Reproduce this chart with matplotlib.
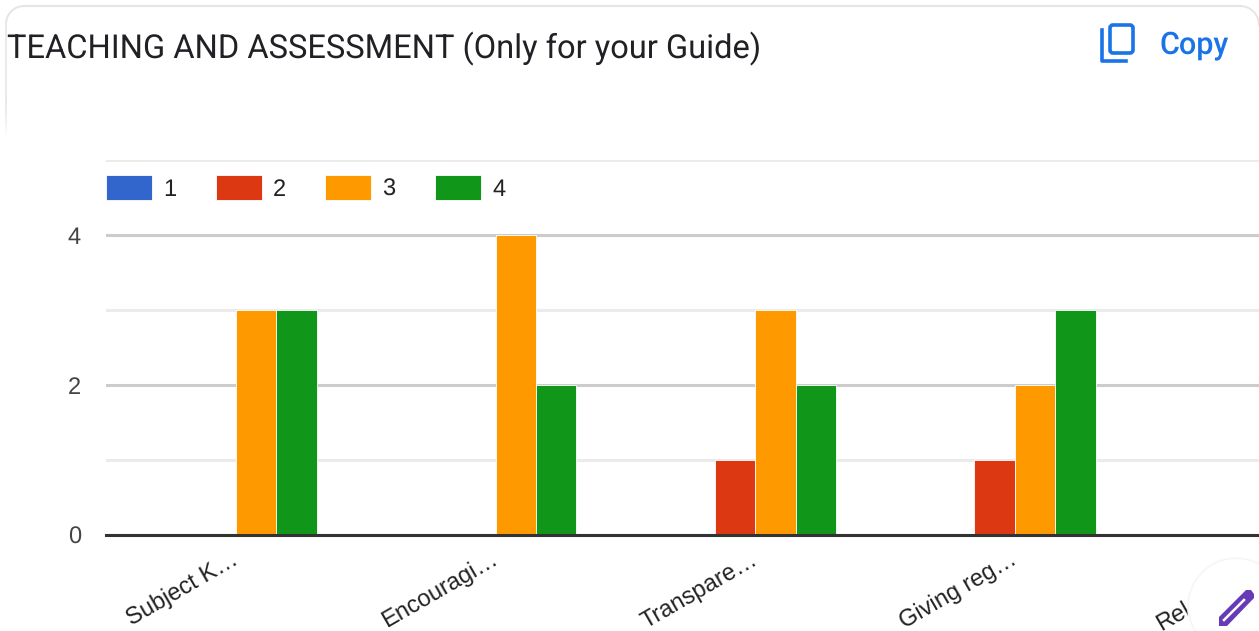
import numpy as np
import matplotlib
matplotlib.use("Agg")
import matplotlib.pyplot as plt
from matplotlib.patches import Circle, FancyBboxPatch, Polygon
from matplotlib.lines import Line2D

plt.rcParams["text.hinting"] = "no_hinting"

title = "TEACHING AND ASSESSMENT (Only for your Guide)"
categories = ["Subject K…", "Encouragi…", "Transpare…", "Giving reg…", "Relevance…"]
series_names = ["1", "2", "3", "4"]
series_colors = ["#3366cc", "#dc3912", "#ff9900", "#109618"]
values_1 = [0, 0, 0, 0]
values_2 = [0, 0, 1, 1]
values_3 = [3, 4, 3, 2]
values_4 = [3, 2, 2, 3]
all_values = [values_1, values_2, values_3, values_4]

W, H = 1259, 631
fig = plt.figure(figsize=(W / 100, H / 100), dpi=100, facecolor="white")
ax = fig.add_axes([106 / W, (H - 535.4) / H, (W - 106) / W, 375 / H])

# one bar per series, side by side in each group
bar_w = 0.156
x = np.arange(len(values_1))
for k, vals in enumerate(all_values):
    ax.bar(x + (k - 1.5) * bar_w, vals, bar_w, color=series_colors[k], edgecolor="white",
           linewidth=0.6, zorder=3, label=series_names[k])

ax.set_xlim(-0.5009, 3.9419)
ax.set_ylim(0, 5)
for s in ax.spines.values():
    s.set_visible(False)

ax.set_yticks([0, 2, 4])
ax.set_yticks([1, 3, 5], minor=True)
ax.set_xticks([])
ax.tick_params(axis="y", which="both", length=0, pad=18, labelsize=17, labelcolor="#444444")
for lab in ax.get_yticklabels():
    lab.set_fontfamily("Liberation Sans")
ax.grid(True, axis="y", which="major", color="#cccccc", linewidth=2.2, zorder=1)
ax.grid(True, axis="y", which="minor", color="#ebebeb", linewidth=2.2, zorder=1)
ax.axhline(0, color="#333333", linewidth=2.2, zorder=5, clip_on=False)

for i, lab in enumerate(categories):
    ax.annotate(lab, xy=(i, 0), xycoords=("data", "axes fraction"), xytext=(-3.5, -9),
                textcoords="offset points", rotation=30, rotation_mode="anchor",
                ha="right", va="top", fontsize=17, color="#222222",
                family="Liberation Sans", annotation_clip=False)

ax.legend(loc="upper left", bbox_to_anchor=(0, 0.96), ncol=4, frameon=False, borderpad=0, borderaxespad=0,
          handlelength=1.95, handleheight=1.25, handletextpad=0.47, columnspacing=1.67,
          prop={"family": "Liberation Sans", "size": 17}, labelcolor="#222222")

# overlay in pixel coordinates for the page furniture around the chart
ov = fig.add_axes([0, 0, 1, 1], zorder=10)
ov.set_xlim(0, W)
ov.set_ylim(H, 0)
ov.axis("off")

ov.plot([6, 6], [24, 100], color="#e6e6ea", linewidth=1.2)
for y0 in range(100, 136, 3):
    ov.plot([6, 6], [y0, y0 + 3], color="#e6e6ea", linewidth=1.2, alpha=(136 - y0) / 36)
ov.plot([24, 1240], [6, 6], color="#e4e4ea", linewidth=1.6)
ov.plot(6 + 18 * (1 - np.cos(np.linspace(0, np.pi / 2, 20))), 6 + 18 * (1 - np.sin(np.linspace(0, np.pi / 2, 20))),
        color="#e4e4ea", linewidth=1.4)
ov.plot(1240 + 19 * np.sin(np.linspace(0, np.pi / 2, 20)), 6 + 19 * (1 - np.cos(np.linspace(0, np.pi / 2, 20))),
        color="#e4e4ea", linewidth=1.4)

ov.text(7, 48.5, title, fontsize=23.5, family="Roboto", color="#202124", va="center", ha="left")
ov.text(1159, 45.5, "Copy", fontsize=22, family="Roboto", weight="medium", color="#1a73e8", va="center", ha="left")

# copy icon
blue = "#1a73e8"
ov.add_patch(FancyBboxPatch((1110, 25), 23, 28, boxstyle="round,pad=0,rounding_size=3", fill=False,
                            edgecolor=blue, linewidth=2.6))
ov.add_line(Line2D([1102.5, 1102.5, 1126], [30, 60.5, 60.5], color=blue, linewidth=2.6, solid_joinstyle="round"))

# edit button, covers the last label
for r, c in [(49, "#fafafa"), (48, "#f4f4f4")]:
    ov.add_patch(Circle((1236, 606), r, facecolor=c, edgecolor="none"))
ov.add_patch(Circle((1236, 606), 47, facecolor="white", edgecolor="none"))
ov.add_patch(Polygon([(1219, 626), (1219, 617), (1246, 590), (1251, 590), (1254, 594), (1254, 598), (1227, 626)],
                     closed=True, facecolor="#673ab7", edgecolor="none"))
ov.add_line(Line2D([1224, 1244], [620, 600], color="white", linewidth=1.8))

fig.savefig("out.png", dpi=100)
